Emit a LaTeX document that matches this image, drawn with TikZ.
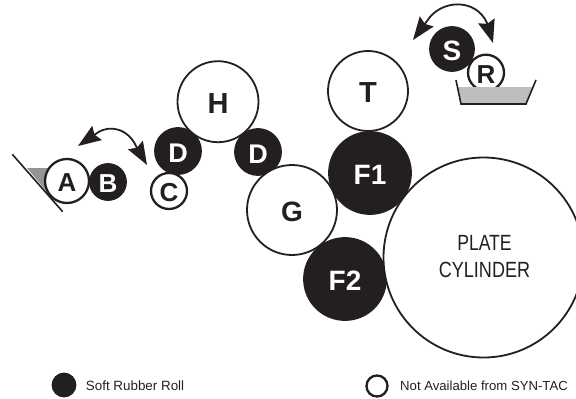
\documentclass[tikz,border=0pt]{standalone}
\usepackage{fontspec}
\usepackage{graphicx}
\setmainfont{Liberation Sans}
\usetikzlibrary{arrows.meta}
\definecolor{ink}{HTML}{231F20}
\definecolor{pangray}{HTML}{BCBEC0}
\definecolor{wedgegray}{HTML}{939598}
\tikzset{
  x=1pt,y=-1pt,
  roll/.style={circle,inner sep=0pt,line width=1.8pt,draw=ink,font=\bfseries},
  soft/.style={roll,fill=ink,text=white},
  open/.style={roll,fill=white,text=ink},
  thickroll/.style={line width=2.3pt},
  swing/.style={line width=1.8pt,draw=ink,{Stealth[length=23pt,width=17pt,inset=3pt]}-{Stealth[length=23pt,width=17pt,inset=3pt]}},
  legendtext/.style={anchor=west,inner sep=0pt,text=ink},
  tray/.style={line width=1.6pt,draw=ink}
}
\newcommand{\lab}[2]{\fontsize{#1}{#1}\selectfont\raisebox{\dimexpr-.358em-1.6pt\relax}[0pt][0pt]{#2}}
\begin{document}
\begin{tikzpicture}
\useasboundingbox (0,0) rectangle (576,399);
% wedge and blade
\fill[wedgegray] (27,168) -- (52,168) -- (47,192) -- cycle;
\coordinate (bladetop) at (12.3,154.3);
\coordinate (bladeend) at (62.7,211.7);
\draw[tray] (bladetop) -- (bladeend);
% rolls, back to front
\node[soft,minimum size=46pt] (D1) at (178,151) {\lab{27}{D}};
\node[soft,minimum size=46pt] (D2) at (258,152) {\lab{27}{D}};
\node[open,minimum size=81pt] (H) at (218,101.7) {\lab{29}{H}};
\node[soft,minimum size=82pt] (F1) at (370,173) {\lab{28}{F1}};
\node[open,minimum size=90pt] (G) at (292,210) {\lab{28}{G}};
\node[soft,minimum size=82pt] (F2) at (345,279) {\lab{28}{F2}};
\node[open,minimum size=80pt] (T) at (368,91) {\lab{29}{T}};
\node[open,minimum size=200pt,font=\normalfont] (P) at (483.5,257.5) {};
\node[inner sep=0pt,text=ink] (Pa) at (484.5,242.5) {\scalebox{.8}[1]{\fontsize{22}{22}\selectfont PLATE}};
\node[inner sep=0pt,text=ink] (Pb) at (484.5,269.5) {\scalebox{.82}[1]{\fontsize{22}{22}\selectfont CYLINDER}};
\node[soft,minimum size=36pt] (B) at (108,182) {\lab{26}{B}};
\node[open,thickroll,minimum size=44pt] (A) at (67,181) {\lab{26}{A}};
\node[open,thickroll,minimum size=36pt] (C) at (169,191) {\lab{26}{C}};
\node[soft,minimum size=44pt] (S) at (452,49) {\lab{28}{S}};
\node[open,thickroll,minimum size=36pt] (R) at (486,72.7) {\lab{26}{R}};
% pan
\fill[pangray] (457.5,87) -- (461,104) -- (526,104) -- (533,87) -- cycle;
\coordinate (pan1) at (456,80);
\coordinate (pan2) at (461,104);
\coordinate (pan3) at (526,104);
\coordinate (pan4) at (536,80);
\draw[tray] (pan1) -- (pan2) -- (pan3) -- (pan4);
% swing arrows
\coordinate (abL) at (78,146);
\coordinate (abLb) at (97,133);
\coordinate (abR) at (147,165);
\coordinate (abRb) at (136,146);
\draw[swing] (abL) -- (abLb) .. controls (110,124) and (128,129) .. (abRb) -- (abR);
\coordinate (srL) at (413,40);
\coordinate (srLb) at (427,21);
\coordinate (srR) at (493,43);
\coordinate (srRb) at (487,23);
\draw[swing] (srL) -- (srLb) .. controls (441,-1) and (476,-2) .. (srRb) -- (srR);
% legend
\node[soft,minimum size=23pt] (k1) at (64,385) {};
\node[legendtext,font=\fontsize{13.4}{14}\selectfont] (k1t) at (85.7,385.5) {Soft Rubber Roll};
\node[open,thickroll,minimum size=21pt] (k2) at (377,386) {};
\node[legendtext,font=\fontsize{13.15}{14}\selectfont] (k2t) at (400,386) {Not Available from SYN-TAC};
\end{tikzpicture}
\end{document}
